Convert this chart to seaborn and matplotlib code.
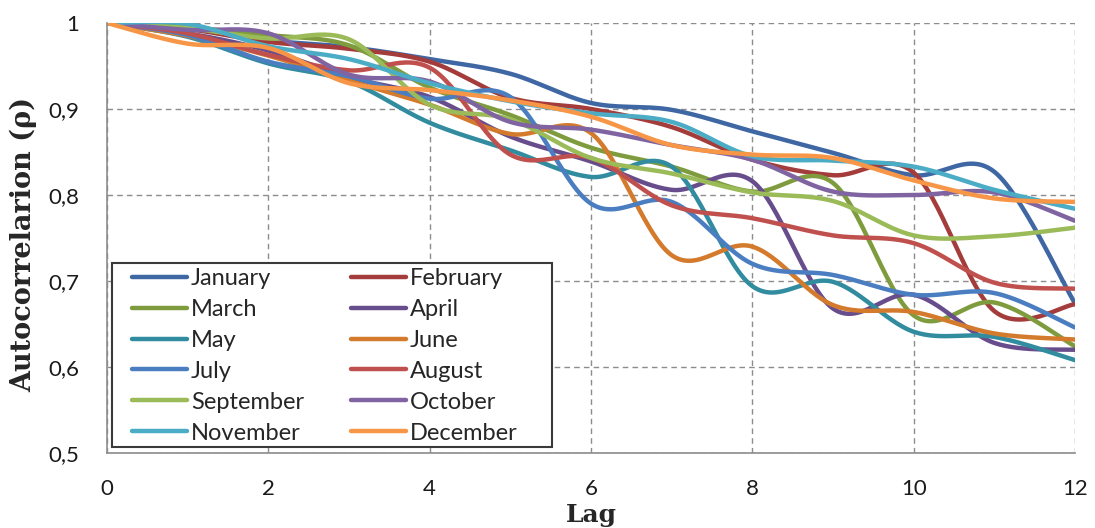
import numpy as np
import pandas as pd
import seaborn as sns
import matplotlib.pyplot as plt
from matplotlib.patches import Rectangle
from matplotlib.ticker import FixedLocator, FuncFormatter

lags = list(range(13))
months = ["January", "February", "March", "April", "May", "June",
          "July", "August", "September", "October", "November", "December"]

january = [1.0, 0.996, 0.980, 0.972, 0.958, 0.941, 0.907, 0.899, 0.874, 0.849, 0.823, 0.827, 0.674]
february = [1.0, 0.993, 0.978, 0.970, 0.955, 0.913, 0.900, 0.879, 0.841, 0.823, 0.826, 0.665, 0.673]
march = [1.0, 0.995, 0.986, 0.974, 0.925, 0.893, 0.855, 0.833, 0.804, 0.814, 0.660, 0.675, 0.624]
april = [1.0, 0.988, 0.968, 0.937, 0.914, 0.868, 0.839, 0.806, 0.816, 0.668, 0.684, 0.628, 0.620]
may = [1.0, 0.984, 0.953, 0.932, 0.884, 0.852, 0.821, 0.833, 0.694, 0.699, 0.641, 0.635, 0.608]
june = [1.0, 0.985, 0.962, 0.933, 0.905, 0.871, 0.872, 0.730, 0.740, 0.672, 0.664, 0.639, 0.632]
july = [1.0, 0.986, 0.955, 0.938, 0.912, 0.914, 0.790, 0.792, 0.720, 0.707, 0.684, 0.686, 0.646]
august = [1.0, 0.988, 0.963, 0.945, 0.948, 0.847, 0.843, 0.788, 0.773, 0.753, 0.744, 0.698, 0.691]
september = [1.0, 0.994, 0.982, 0.981, 0.905, 0.888, 0.843, 0.825, 0.803, 0.793, 0.753, 0.752, 0.762]
october = [1.0, 0.992, 0.988, 0.940, 0.932, 0.885, 0.876, 0.858, 0.841, 0.804, 0.800, 0.803, 0.770]
november = [1.0, 0.999, 0.973, 0.958, 0.930, 0.909, 0.895, 0.885, 0.845, 0.840, 0.833, 0.806, 0.784]
december = [1.0, 0.976, 0.971, 0.930, 0.922, 0.910, 0.891, 0.858, 0.847, 0.843, 0.817, 0.796, 0.792]

series = [january, february, march, april, may, june,
          july, august, september, october, november, december]

colors = ["#3F67A3", "#A33C3A", "#7E9C3D", "#674D8C", "#318C9F", "#D47A2C",
          "#4A7EC0", "#C0504D", "#9BBB59", "#8064A2", "#4BACC6", "#F79646"]


def smooth(x, y, n=30):
    # Excel-style smoothed line: cubic Bezier through the points
    x = np.asarray(x, float)
    y = np.asarray(y, float)
    px = np.concatenate([[x[0]], x, [x[-1]]])
    py = np.concatenate([[y[0]], y, [y[-1]]])
    t = np.linspace(0, 1, n, endpoint=False)[:, None]
    xs, ys = [], []
    for i in range(len(x) - 1):
        p0 = np.array([px[i + 1], py[i + 1]])
        p3 = np.array([px[i + 2], py[i + 2]])
        c1 = p0 + (p3 - np.array([px[i], py[i]])) / 6
        c2 = p3 - (np.array([px[i + 3], py[i + 3]]) - p0) / 6
        b = ((1 - t) ** 3) * p0 + 3 * ((1 - t) ** 2) * t * c1 + 3 * (1 - t) * t ** 2 * c2 + t ** 3 * p3
        xs.append(b[:, 0])
        ys.append(b[:, 1])
    xs.append([x[-1]])
    ys.append([y[-1]])
    return np.concatenate(xs), np.concatenate(ys)


frames = []
for name, vals in zip(months, series):
    sx, sy = smooth(lags, vals)
    frames.append(pd.DataFrame({"lag": sx, "rho": sy, "month": name}))
df = pd.concat(frames, ignore_index=True)

sns.set_style("white")
plt.rcParams["font.family"] = ["Lato", "DejaVu Sans"]

fig = plt.figure(figsize=(10.95, 5.28), dpi=100)
ax = fig.add_axes([107 / 1095, 1 - 453 / 528, 968 / 1095, 430 / 528])

sns.lineplot(data=df, x="lag", y="rho", hue="month", hue_order=months,
             palette=colors, estimator=None, sort=False, linewidth=3.2,
             ax=ax, legend=True)

ax.set_xlim(0, 12)
ax.set_ylim(0.5, 1.0)
ax.xaxis.set_major_locator(FixedLocator(range(0, 13, 2)))
ax.yaxis.set_major_locator(FixedLocator([0.5, 0.6, 0.7, 0.8, 0.9, 1.0]))
ax.yaxis.set_major_formatter(FuncFormatter(
    lambda v, p: "1" if abs(v - 1) < 1e-9 else f"{v:.1f}".replace(".", ",")))
ax.xaxis.set_major_formatter(FuncFormatter(lambda v, p: f"{int(round(v))}"))

ax.grid(True, color="#8c8c8c", linestyle=(0, (4, 3)), linewidth=1)
for s in ["top", "right"]:
    ax.spines[s].set_visible(False)
for s in ["left", "bottom"]:
    ax.spines[s].set_color("#8c8c8c")
    ax.spines[s].set_linewidth(1.2)
ax.tick_params(axis="both", length=4, color="#8c8c8c", labelsize=16,
               labelcolor="#1a1a1a")
ax.tick_params(axis="y", pad=16)
ax.tick_params(axis="x", pad=15)

ax.set_xlabel("Lag", fontsize=18, fontweight="bold", family="DejaVu Serif",
              labelpad=2.5)
ylab = ax.set_ylabel("Autocorrelarion (ρ)", fontsize=20, fontweight="bold",
                     family="DejaVu Serif")
ax.yaxis.set_label_coords(-0.072, 0.485)

# fit the y label to the length it has in the original (about 295 px)
fig.canvas.draw()
h = ylab.get_window_extent().height
ylab.set_fontsize(20 * 295 / h)

box = Rectangle((4.7 / 968, 1 - (446.7 - 23) / 430), 440 / 968, 183.4 / 430,
                transform=ax.transAxes, facecolor="white", edgecolor="#3a3a3a",
                linewidth=1.5, zorder=4)
ax.add_patch(box)

# row-wise legend order like the original (January | February, ...)
handles, labels = ax.get_legend_handles_labels()
order = list(range(0, 12, 2)) + list(range(1, 12, 2))
leg = ax.legend([handles[i] for i in order], [labels[i] for i in order],
                ncol=2, loc="upper left",
                bbox_to_anchor=(25 / 968, 1 - (268 - 23) / 430),
                frameon=False, fontsize=17, handlelength=2.33,
                handletextpad=0.16, labelspacing=0.42, columnspacing=2.0,
                borderpad=0, borderaxespad=0)
leg.set_zorder(5)
for line in leg.get_lines():
    line.set_linewidth(3.2)

fig.savefig("out.png", dpi=100)
